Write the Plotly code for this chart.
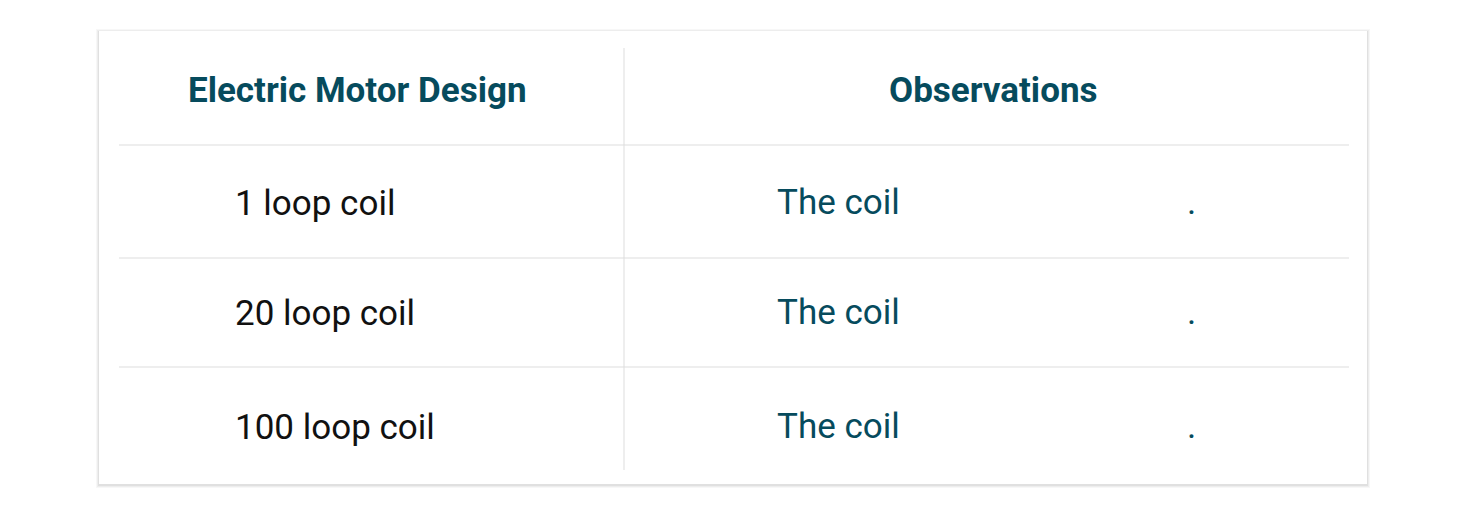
import plotly.graph_objects as go

headers = ["Electric Motor Design", "Observations"]
designs = ["1 loop coil", "20 loop coil", "100 loop coil"]
observations = ["The coil", "The coil", "The coil"]
blanks = [".", ".", "."]

W, H = 1466, 517
O = 8  # page body margin offset
TEAL = "#064b5d"
LINE = "#dddddd"
row_y = [203, 313, 427]

fig = go.Figure()

shapes = []
# card shadow + card
for i, a in enumerate([0.03, 0.04, 0.05]):
    d = 3 - i
    shapes.append(dict(type="rect", x0=99 - d - O, x1=1367 + d - O, y0=31 - d + 1 - O, y1=484 + d + 1 - O,
                       line=dict(width=0), fillcolor=f"rgba(0,0,0,{a})", layer="below"))
shapes.append(dict(type="rect", x0=99 - O, x1=1367 - O, y0=31 - O, y1=484 - O,
                   line=dict(width=0), fillcolor="white", layer="below"))
shapes.append(dict(type="line", x0=624 - O, x1=624 - O, y0=48 - O, y1=470 - O, line=dict(color=LINE, width=1)))
for y in [145, 258, 367]:
    shapes.append(dict(type="line", x0=119 - O, x1=1349 - O, y0=y - O, y1=y - O, line=dict(color=LINE, width=1)))

ann = []
for x, h in zip([357, 993], headers):
    ann.append(dict(x=x - O, y=90 - O, text=f"<b>{h}</b>", showarrow=False, xanchor="center",
                    font=dict(family="Roboto", size=35, color=TEAL)))
for y, d, o, b in zip(row_y, designs, observations, blanks):
    ann.append(dict(x=233 - O, y=y - O, text=d, showarrow=False, xanchor="left",
                    font=dict(family="Roboto", size=35, color="#111111")))
    ann.append(dict(x=775 - O, y=y - 1 - O, text=o, showarrow=False, xanchor="left",
                    font=dict(family="Roboto", size=35, color=TEAL)))
    ann.append(dict(x=1185 - O, y=y - 1 - O, text=b, showarrow=False, xanchor="left",
                    font=dict(family="Roboto", size=35, color=TEAL)))

fig.update_layout(
    width=W, height=H, margin=dict(l=0, r=0, t=0, b=0),
    paper_bgcolor="white", plot_bgcolor="white",
    xaxis=dict(range=[0, W], visible=False, fixedrange=True),
    yaxis=dict(range=[H, 0], visible=False, fixedrange=True),
    shapes=shapes, annotations=ann, showlegend=False,
)
fig.write_html("out.html")
